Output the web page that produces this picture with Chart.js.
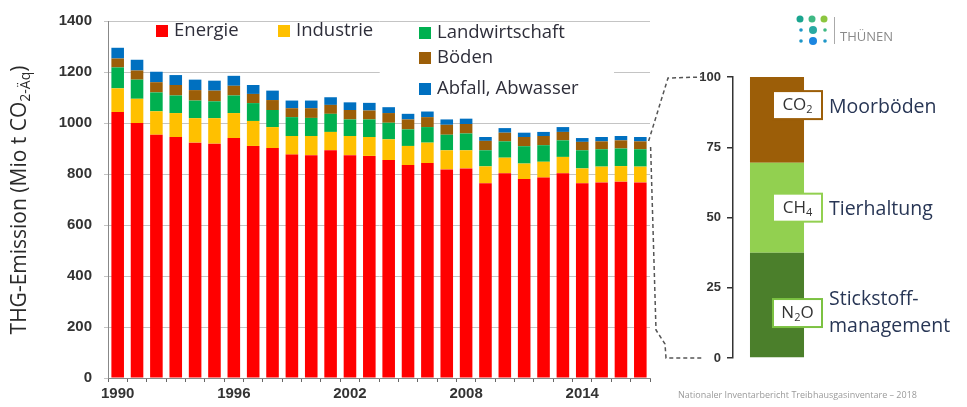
<!DOCTYPE html>
<html>
<head>
<meta charset="utf-8">
<script src="https://cdn.jsdelivr.net/npm/chart.js@4.4.1/dist/chart.umd.min.js"></script>
<style>
  html, body { margin: 0; padding: 0; background: #fff; }
  #wrap { position: relative; width: 967px; height: 407px; }
  #hauptChart { position: absolute; left: 0; top: 0; }
  #anteilChart { position: absolute; left: 660px; top: 0; }
</style>
</head>
<body>
<div id="wrap">
  <canvas id="hauptChart" width="967" height="407"></canvas>
  <canvas id="anteilChart" width="307" height="407"></canvas>
</div>
<script>
// Daten
const jahre = [];
for (let j = 1990; j <= 2017; j++) jahre.push(String(j));

const energie        = [1043, 1000, 954, 945, 923, 919, 941, 910, 902, 876, 874, 893, 874, 871, 855, 835, 843, 818, 822, 764, 803, 780, 786, 803, 764, 767, 770, 767];
const industrie      = [93, 95, 92, 94, 96, 100, 98, 98, 82, 73, 75, 72, 75, 74, 81, 75, 80, 75, 71, 66, 61, 61, 62, 64, 58, 62, 61, 62];
const landwirtschaft = [82, 75, 74, 69, 69, 66, 69, 70, 67, 74, 71, 71, 65, 69, 65, 65, 61, 61, 66, 63, 64, 68, 65, 65, 71, 68, 69, 68];
const boeden         = [35, 36, 40, 41, 41, 42, 38, 36, 39, 35, 38, 35, 37, 35, 38, 39, 39, 39, 37, 37, 34, 36, 36, 33, 33, 31, 32, 31];
const abfall         = [42, 42, 41, 39, 41, 39, 39, 35, 37, 30, 30, 30, 30, 30, 23, 22, 22, 21, 21, 15, 18, 17, 16, 19, 15, 17, 17, 17];

// Anteile Landwirtschaft (%)
const anteilN2O = [37.5];
const anteilCH4 = [32];
const anteilCO2 = [30.5];
const anteilTicks = [0, 25, 50, 75, 100];

const farben = {
    energie: '#ff0000',
    industrie: '#ffc000',
    landwirtschaft: '#00b050',
    boeden: '#9c5e08',
    abfall: '#0070c0'
};

const tickFont = { family: 'Liberation Sans', size: 15, weight: 'bold' };
const textFont = "'Open Sans'";

// Legende + Achsentitel + Verbindungslinie
const hauptDeko = {
    id: 'hauptDeko',
    beforeDatasetsDraw(chart) {
        const { ctx } = chart;
        // Legende deckt die Gitterlinie ab
        ctx.save();
        ctx.fillStyle = '#fff';
        ctx.fillRect(380, 40, 234, 62);
        ctx.restore();
    },
    afterDraw(chart) {
        const { ctx } = chart;
        ctx.save();

        // Legende
        const eintraege = [
            [farben.energie, 'Energie', 156, 31],
            [farben.industrie, 'Industrie', 278, 31],
            [farben.landwirtschaft, 'Landwirtschaft', 419, 33],
            [farben.boeden, 'Böden', 419, 58],
            [farben.abfall, 'Abfall, Abwasser', 419, 89]
        ];
        ctx.font = '18.5px ' + textFont;
        ctx.textBaseline = 'middle';
        ctx.textAlign = 'left';
        eintraege.forEach(([farbe, text, x, y]) => {
            ctx.fillStyle = farbe;
            ctx.fillRect(x, y - 6, 12, 12);
            ctx.fillStyle = '#2e2e3a';
            ctx.fillText(text, x + 18, y);
        });

        // Achsentitel mit Index
        ctx.translate(20, 200);
        ctx.rotate(-Math.PI / 2);
        ctx.fillStyle = '#2a2a2a';
        const teil1 = 'THG-Emission (Mio t CO';
        const teil2 = '2-Äq';
        const teil3 = ')';
        ctx.font = '21px ' + textFont;
        const w1 = ctx.measureText(teil1).width;
        const w3 = ctx.measureText(teil3).width;
        ctx.font = '14px ' + textFont;
        const w2 = ctx.measureText(teil2).width;
        let x0 = -(w1 + w2 + w3) / 2;
        ctx.font = '21px ' + textFont;
        ctx.fillText(teil1, x0, 0);
        ctx.font = '14px ' + textFont;
        ctx.fillText(teil2, x0 + w1, 6);
        ctx.font = '21px ' + textFont;
        ctx.fillText(teil3, x0 + w1 + w2, 0);
        ctx.restore();

        // gestrichelte Klammer zum Anteil-Balken
        const meta = chart.getDatasetMeta(chart.data.datasets.length - 1);
        const letzter = meta.data[meta.data.length - 1];
        const xs = letzter.x + letzter.width / 2 + 2;
        const ys = letzter.y + 4;
        ctx.save();
        ctx.strokeStyle = '#555';
        ctx.lineWidth = 1.5;
        ctx.setLineDash([4, 3]);
        ctx.beginPath();
        ctx.moveTo(xs, ys);
        ctx.lineTo(668, 78);
        ctx.lineTo(702, 77);
        ctx.moveTo(xs + 2, ys + 6);
        ctx.lineTo(656, 330);
        ctx.lineTo(665, 344);
        ctx.lineTo(666, 358);
        ctx.lineTo(702, 358);
        ctx.stroke();
        ctx.restore();
    }
};

new Chart(document.getElementById('hauptChart'), {
    type: 'bar',
    data: {
        labels: jahre,
        datasets: [
            { label: 'Energie', data: energie, backgroundColor: farben.energie },
            { label: 'Industrie', data: industrie, backgroundColor: farben.industrie },
            { label: 'Landwirtschaft', data: landwirtschaft, backgroundColor: farben.landwirtschaft },
            { label: 'Böden', data: boeden, backgroundColor: farben.boeden },
            { label: 'Abfall, Abwasser', data: abfall, backgroundColor: farben.abfall }
        ]
    },
    options: {
        responsive: false,
        animation: false,
        devicePixelRatio: 1,
        barPercentage: 0.65,
        categoryPercentage: 1,
        layout: { padding: { top: 18, right: 317, left: 0, bottom: 0 } },
        plugins: { legend: { display: false }, tooltip: { enabled: false } },
        scales: {
            x: {
                stacked: true,
                grid: { offset: true, drawOnChartArea: false, drawTicks: true, tickLength: 4, color: '#666' },
                border: { color: '#888' },
                ticks: {
                    autoSkip: false,
                    maxRotation: 0,
                    padding: 3,
                    color: '#333',
                    font: tickFont,
                    callback: function (v, i) { return i % 6 === 0 ? this.getLabelForValue(v) : ''; }
                },
                afterFit(scale) { scale.height = 29; }
            },
            y: {
                stacked: true,
                min: 0,
                max: 1400,
                grid: { color: '#c4c4c4', tickLength: 4 },
                border: { color: '#888' },
                ticks: {
                    stepSize: 200,
                    padding: 12,
                    color: '#333',
                    font: tickFont,
                    callback: v => String(v)
                },
                afterFit(scale) { scale.width = 108; }
            }
        }
    },
    plugins: [hauptDeko]
});

// rechter Balken: Zusammensetzung Landwirtschaft
const anteilDeko = {
    id: 'anteilDeko',
    afterDraw(chart) {
        const { ctx, scales: { y } } = chart;
        ctx.save();

        // Kästchen mit Gasen
        const gase = [
            ['CO', '2', '', 90, '#9c5e08'],
            ['CH', '4', '', 53.5, '#92d050'],
            ['N', '2', 'O', 16, '#7cc242']
        ];
        gase.forEach(([a, idx, b, wert, rand]) => {
            const cy = y.getPixelForValue(wert);
            ctx.fillStyle = '#fff';
            ctx.fillRect(113, cy - 14, 49, 28);
            ctx.strokeStyle = rand;
            ctx.lineWidth = 2;
            ctx.strokeRect(113, cy - 14, 49, 28);
            ctx.fillStyle = '#333';
            ctx.textBaseline = 'middle';
            ctx.textAlign = 'left';
            ctx.font = '17px ' + textFont;
            const wa = ctx.measureText(a).width;
            const wb = ctx.measureText(b).width;
            ctx.font = '11px ' + textFont;
            const wi = ctx.measureText(idx).width;
            let x = 137.5 - (wa + wi + wb) / 2;
            ctx.font = '17px ' + textFont;
            ctx.fillText(a, x, cy);
            ctx.font = '11px ' + textFont;
            ctx.fillText(idx, x + wa, cy + 5);
            ctx.font = '17px ' + textFont;
            ctx.fillText(b, x + wa + wi, cy);
        });

        // Beschriftung rechts
        const texte = [
            ['Moorböden', 89],
            ['Tierhaltung', 52.7],
            ['Stickstoff-', 20.8],
            ['management', 11.4]
        ];
        ctx.font = '19.5px ' + textFont;
        ctx.fillStyle = '#283655';
        ctx.textBaseline = 'middle';
        texte.forEach(([t, wert]) => ctx.fillText(t, 169, y.getPixelForValue(wert)));

        // Logo
        const punkte = [
            [140, 19, 3.5, '#1aa58f'], [152, 19, 3.5, '#3fb984'], [164, 19, 3.5, '#8cc63f'],
            [141, 30, 1.8, '#1e96c8'], [153, 30, 4, '#29a9a3'], [165, 30, 1.8, '#3fb984'],
            [141, 41, 1.8, '#1e96c8'], [153, 41, 4, '#1c86e0'], [165, 41, 1.8, '#1e96c8']
        ];
        punkte.forEach(([px, py, r, c]) => {
            ctx.fillStyle = c;
            ctx.beginPath();
            ctx.arc(px, py, r, 0, Math.PI * 2);
            ctx.fill();
        });
        ctx.strokeStyle = '#aaa';
        ctx.lineWidth = 1;
        ctx.beginPath();
        ctx.moveTo(174.5, 17);
        ctx.lineTo(174.5, 44);
        ctx.stroke();
        ctx.fillStyle = '#8a8a8a';
        ctx.font = '13px ' + textFont;
        ctx.textAlign = 'left';
        ctx.fillText('THÜNEN', 180, 37);

        // Quelle
        ctx.fillStyle = '#9a9a9a';
        ctx.font = '9px ' + textFont;
        ctx.fillText('Nationaler Inventarbericht Treibhausgasinventare – 2018', 18, 395);
        ctx.restore();
    }
};

new Chart(document.getElementById('anteilChart'), {
    type: 'bar',
    data: {
        labels: ['Landwirtschaft'],
        datasets: [
            { label: 'N2O', data: anteilN2O, backgroundColor: '#4b7f2b' },
            { label: 'CH4', data: anteilCH4, backgroundColor: '#92d050' },
            { label: 'CO2', data: anteilCO2, backgroundColor: '#9c5e08' }
        ]
    },
    options: {
        responsive: false,
        animation: false,
        devicePixelRatio: 1,
        barPercentage: 0.614,
        categoryPercentage: 1,
        layout: { padding: { top: 77, bottom: 49, right: 146, left: 0 } },
        plugins: { legend: { display: false }, tooltip: { enabled: false } },
        scales: {
            x: { stacked: true, display: false },
            y: {
                stacked: true,
                min: 0,
                max: 100,
                afterBuildTicks(scale) { scale.ticks = anteilTicks.map(v => ({ value: v })); },
                grid: { drawOnChartArea: false, tickLength: 6, color: '#333', lineWidth: 1.5 },
                border: { color: '#333', width: 1.5 },
                ticks: { padding: 6, color: '#333', font: { family: 'Liberation Sans', size: 13, weight: 'bold' } },
                afterFit(scale) { scale.width = 73; }
            }
        }
    },
    plugins: [anteilDeko]
});
</script>
</body>
</html>
